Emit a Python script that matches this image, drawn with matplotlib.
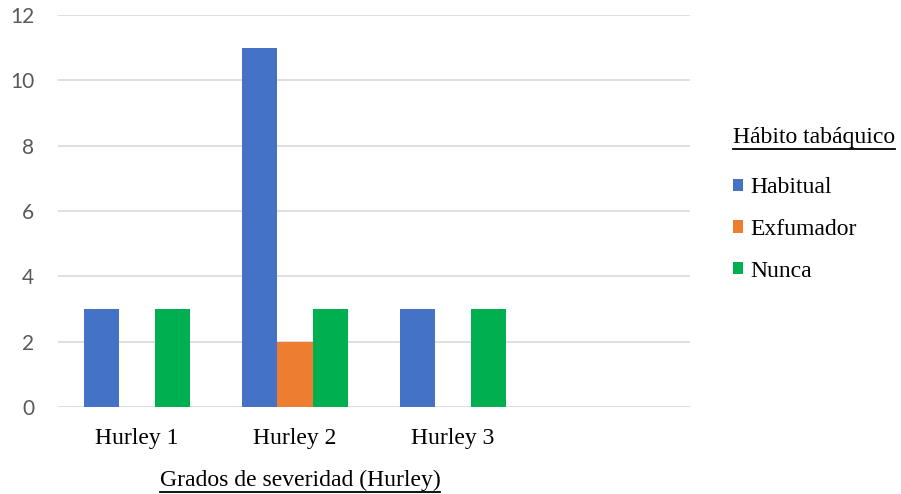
import matplotlib
matplotlib.use("Agg")
import matplotlib.pyplot as plt
from matplotlib.lines import Line2D
import numpy as np

categories = ["Hurley 1", "Hurley 2", "Hurley 3"]
series_names = ["Habitual", "Exfumador", "Nunca"]
habitual = [3, 11, 3]
exfumador = [0, 2, 0]
nunca = [3, 3, 3]
yticks = [0, 2, 4, 6, 8, 10, 12]
colors = ["#4472C4", "#ED7D31", "#00B050"]

W, H = 901, 494
fig = plt.figure(figsize=(W / 100, H / 100), dpi=100)
ax = fig.add_axes([58 / W, 1 - 407 / H, (690 - 58) / W, (407 - 15) / H])

x = np.arange(len(categories))
width = 0.222
values = [habitual, exfumador, nunca]
bars = []
for i, (name, vals, c) in enumerate(zip(series_names, values, colors)):
    b = ax.bar(x + (i - 1) * width, vals, width, color=c, label=name, zorder=3)
    bars.append(b)

ax.set_xlim(-0.5, 3.5)
ax.set_ylim(0, 12)
ax.set_yticks(yticks)
ax.set_yticklabels([str(t) for t in yticks], fontfamily="Lato", fontsize=15, color="#595959")
ax.set_xticks(x)
ax.set_xticklabels(categories, fontfamily="Liberation Serif", fontsize=17, color="#000000")
ax.tick_params(axis="both", length=0)
ax.tick_params(axis="x", pad=15)
ax.tick_params(axis="y", pad=17)
for s in ["top", "right", "left", "bottom"]:
    ax.spines[s].set_visible(False)
ax.grid(axis="y", color="#D9D9D9", linewidth=1.2, zorder=0)
ax.set_axisbelow(True)

serif = {"family": "Liberation Serif", "size": 17}

xlabel = fig.text(300 / W, 1 - 486 / H, "Grados de severidad (Hurley)",
                  ha="center", va="baseline", fontdict=serif)
legend_title = fig.text(733 / W, 1 - 143 / H, "Hábito tabáquico",
                        ha="left", va="baseline", fontdict=serif)

leg = fig.legend(handles=[b[0] for b in bars], labels=series_names,
                 loc="upper left", bbox_to_anchor=(712 / W, 1 - 156 / H),
                 frameon=False, prop=serif, handlelength=0.42, handleheight=0.42,
                 handletextpad=0.3, labelspacing=0.88)

fig.canvas.draw()
renderer = fig.canvas.get_renderer()
inv = fig.transFigure.inverted()
for t in [xlabel, legend_title]:
    bb = t.get_window_extent(renderer)
    (x0, y0), (x1, _) = inv.transform([[bb.x0, bb.y0], [bb.x1, bb.y1]])
    fig.add_artist(Line2D([x0, x1], [y0 - 1 / H, y0 - 1 / H], transform=fig.transFigure,
                          color="black", linewidth=1.3))

fig.savefig("out.png", dpi=100, facecolor="white")
